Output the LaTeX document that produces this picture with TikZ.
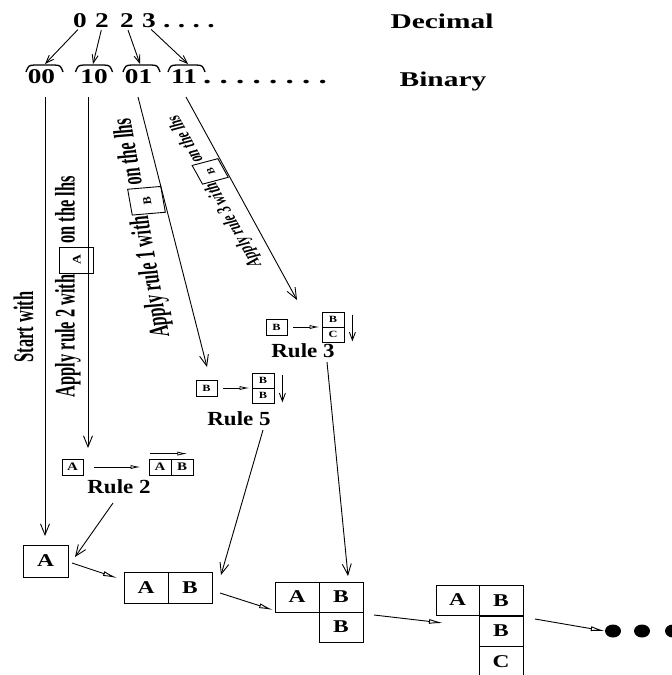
\documentclass[tikz,border=0pt]{standalone}
\usepackage{fontspec}
\usepackage{graphicx}
\setmainfont{Liberation Serif}
\usetikzlibrary{arrows.meta,calc,shapes.geometric}
\newcommand{\hs}[3]{{\fontsize{#1}{#1}\selectfont\bfseries\scalebox{#2}[1]{#3}}}
\newcommand{\rtx}[1]{\scalebox{0.84}[1]{#1}}
\tikzset{
  lbl/.style={inner sep=0pt, anchor=base},
  rt/.style={transform shape, inner sep=0pt, font=\fontsize{19.5}{19.5}\selectfont\bfseries},
  rts/.style={transform shape, inner sep=0pt, font=\fontsize{14.2}{14.2}\selectfont\bfseries},
  bx/.style={draw, line width=0.9pt},
  cell/.style={draw, line width=0.9pt, inner sep=0pt, minimum width=44pt, minimum height=30pt},
  scell/.style={draw, line width=0.8pt, inner sep=0pt, minimum width=21pt, minimum height=16pt},
  hat/.style={line width=1.3pt},
  barb/.style={line width=0.9pt, -{Straight Barb[length=11pt,width=9pt]}},
  sbarb/.style={line width=0.9pt, -{Straight Barb[length=8pt,width=6pt]}},
  dbl/.style={line width=0.9pt, -{Latex[open,length=14pt,width=5pt]}},
  sdbl/.style={line width=0.8pt, -{Latex[open,length=10pt,width=4pt]}},
  bigdot/.style={ellipse, fill=black, inner sep=0pt, minimum width=16pt, minimum height=13pt},
}
\begin{document}
\begin{tikzpicture}[x=1pt,y=-1pt]
\useasboundingbox (0,0) rectangle (672,675);

% ---- decimal row
\node[lbl] (d0) at (80,27) {\hs{21}{1.3}{0}};
\node[lbl] (d1) at (102,27) {\hs{21}{1.3}{2}};
\node[lbl] (d2) at (127,27) {\hs{21}{1.3}{2}};
\node[lbl] (d3) at (149,27) {\hs{21}{1.3}{3}};
\node[lbl, anchor=base west] (ddots) at (163,27) {\hs{21}{1.4}{.\ .\ .\ .}};
\node[lbl] (dec) at (442,28) {\hs{21}{1.4}{Decimal}};

% ---- binary row
\node[lbl] (b00) at (41.5,83) {\hs{21}{1.3}{00}};
\node[lbl] (b10) at (94,83) {\hs{21}{1.3}{10}};
\node[lbl] (b01) at (138.5,83) {\hs{21}{1.3}{01}};
\node[lbl] (b11) at (184,83) {\hs{21}{1.3}{11}};
\node[lbl, anchor=base west] (bdots) at (203,83) {\hs{22}{1.5}{.\ .\ .\ .\ .\ .\ .\ .}};
\node[lbl] (bin) at (443,86) {\hs{21}{1.4}{Binary}};

% hats
\foreach \c in {44.5,94,141.5,186.5}
  \draw[hat] (\c-18.5,72) .. controls (\c-16,65.5) .. (\c-10,65) -- (\c+10,65) .. controls (\c+16,65.5) .. (\c+18.5,72);
\coordinate (h00) at (45,64);
\coordinate (h10) at (93,64);
\coordinate (h01) at (140,64);
\coordinate (h11) at (188,64);
\draw[sbarb, shorten <=3pt] (d0.south) -- (h00);
\draw[sbarb, shorten <=3pt] (d1.south) -- (h10);
\draw[sbarb, shorten <=3pt] (d2.south) -- (h01);
\draw[sbarb, shorten <=3pt] (d3.south) -- (h11);

% ---- rule 2
\node[scell] (r2a) at (72.5,467) {\hs{11.5}{1.3}{A}};
\node[scell, minimum width=22pt] (r2b1) at (160,467) {\hs{11.5}{1.3}{A}};
\node[scell, minimum width=22pt] (r2b2) at (182,467) {\hs{11.5}{1.3}{B}};
\draw[sdbl, shorten <=11pt, shorten >=8pt] (r2a.east) -- (r2b1.west);
\draw[sdbl] ($(r2b1.north west)+(1,-5)$) -- ($(r2b2.north east)+(-6,-5)$);
\node[lbl] (rl2) at (119,493) {\hs{20}{1.15}{Rule 2}};

% ---- rule 5
\node[scell] (r5a) at (206.5,388) {\hs{9.5}{1.3}{B}};
\node[scell, minimum width=22pt, minimum height=15pt] (r5b1) at (263,380.5) {\hs{9.5}{1.3}{B}};
\node[scell, minimum width=22pt, minimum height=15pt] (r5b2) at (263,395.5) {\hs{9.5}{1.3}{B}};
\draw[sdbl, shorten <=6pt, shorten >=2pt] (r5a.east) -- (r5a.east -| r5b1.west);
\draw[sbarb] ($(r5b1.north east)+(8,2)$) -- ($(r5b2.south east)+(8,-1)$);
\node[lbl] (rl5) at (239,425) {\hs{20}{1.15}{Rule 5}};

% ---- rule 3
\node[scell] (r3a) at (276.5,327) {\hs{9.5}{1.3}{B}};
\node[scell, minimum width=22pt, minimum height=15pt] (r3b1) at (333,319.5) {\hs{9.5}{1.3}{B}};
\node[scell, minimum width=22pt, minimum height=15pt] (r3b2) at (333,334.5) {\hs{9.5}{1.3}{C}};
\draw[sdbl, shorten <=6pt, shorten >=2pt] (r3a.east) -- (r3a.east -| r3b1.west);
\draw[sbarb] ($(r3b1.north east)+(8,3)$) -- ($(r3b2.south east)+(8,-1)$);
\node[lbl] (rl3) at (303,357) {\hs{20}{1.15}{Rule 3}};

% ---- rotated labels
\begin{scope}[shift={(23.5,327)}, xscale=1.45, rotate=90]
  \node[rt] (st) at (0,0) {\rtx{Start with}};
\end{scope}
\begin{scope}[shift={(76,260)}, xscale=1.45, rotate=90]
  \draw[bx] (-13,-11.7) rectangle (13,11.7);
  \node[rt, anchor=base east] (l2a) at (-14.5,-1) {\rtx{Apply rule 2 with}};
  \node[rt, anchor=base west] (l2b) at (16,-1) {\rtx{on the lhs}};
  \node[transform shape, inner sep=0pt] (l2c) at (0,0.5) {\hs{8}{1.7}{A}};
\end{scope}
\begin{scope}[shift={(146.5,200.75)}, xscale=1.45, rotate=97]
  \draw[bx] (-13,-11.5) rectangle (13,11.5);
  \node[rt, anchor=base east] (l1a) at (-14.5,-1) {\rtx{Apply rule 1 with}};
  \node[rt, anchor=base west] (l1b) at (16,-1) {\rtx{on the lhs}};
  \node[transform shape, inner sep=0pt] (l1c) at (0,0.5) {\hs{8}{1.5}{B}};
\end{scope}
\begin{scope}[shift={(210.2,171.4)}, xscale=1.45, rotate=111]
  \draw[bx] (-10,-9.5) rectangle (10,9.5);
  \node[rts, anchor=base east] (l3a) at (-11,-0.5) {\rtx{Apply rule 3 with}};
  \node[rts, anchor=base west] (l3b) at (11.5,-0.5) {\rtx{on the lhs}};
  \node[transform shape, inner sep=0pt] (l3c) at (0,0.5) {\hs{7}{1.4}{B}};
\end{scope}

% ---- result boxes
\node[cell, minimum width=45pt, minimum height=32pt] (boxA) at (45.5,561) {\hs{18}{1.3}{A}};
\node[cell, minimum height=31pt] (ab1) at (146,587.5) {\hs{18}{1.3}{A}};
\node[cell, minimum height=31pt] (ab2) at (190,587.5) {\hs{18}{1.3}{B}};
\node[cell] (abb1) at (297,597) {\hs{18}{1.3}{A}};
\node[cell] (abb2) at (341,597) {\hs{18}{1.3}{B}};
\node[cell] (abb3) at (341,627) {\hs{18}{1.3}{B}};
\node[cell, minimum width=43pt] (c1) at (457.5,600) {\hs{18}{1.3}{A}};
\node[cell] (c2) at (501,600.5) {\hs{18}{1.3}{B}};
\node[cell] (c3) at (501,631) {\hs{18}{1.3}{B}};
\node[cell, minimum height=31pt] (c4) at (501,661.5) {\hs{18}{1.3}{C}};
\node[bigdot] (dot1) at (613,631) {};
\node[bigdot] (dot2) at (642,631) {};
\node[bigdot] (dot3) at (673,631) {};

% ---- long connectors
\coordinate (s00) at (45,97);
\coordinate (t00) at (45,536);
\coordinate (s10) at (88,97);
\coordinate (s01) at (138,97);
\coordinate (s11) at (186,97);
\coordinate (t10) at (88,448);
\coordinate (t01) at (207,367);
\coordinate (t11) at (297,300);
\draw[barb] (s00) -- (t00);
\draw[barb] (s10) -- (t10);
\draw[barb] (s01) -- (t01);
\draw[barb] (s11) -- (t11);

\coordinate (u2) at (113,503);
\coordinate (v2) at (75,557);
\draw[barb] (u2) -- (v2);
\coordinate (u5) at (263,430);
\coordinate (v5) at (221,575);
\draw[barb] (u5) -- (v5);
\coordinate (u3) at (327,362);
\coordinate (v3) at (348,576);
\draw[barb] (u3) -- (v3);

\coordinate (e1) at (72,563);
\coordinate (f1) at (117,578);
\draw[dbl] (e1) -- (f1);
\coordinate (e2) at (220,593);
\coordinate (f2) at (273,610);
\draw[dbl] (e2) -- (f2);
\coordinate (e3) at (374,615);
\coordinate (f3) at (443,623);
\draw[dbl] (e3) -- (f3);
\coordinate (e4) at (535,619);
\draw[dbl] (e4) -- (dot1.west);
\end{tikzpicture}
\end{document}
